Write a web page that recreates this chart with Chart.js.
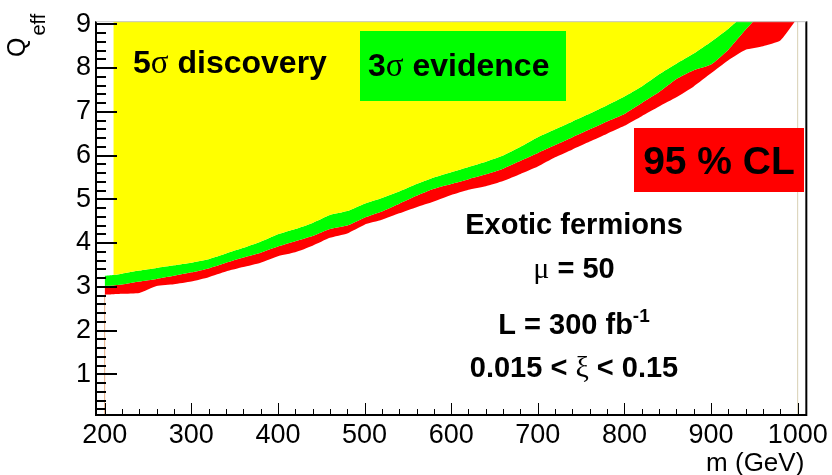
<!DOCTYPE html>
<html>
<head>
<meta charset="utf-8">
<script src="https://cdn.jsdelivr.net/npm/chart.js@4.4.0/dist/chart.umd.min.js"></script>
<style>
  html, body { margin: 0; padding: 0; background: #fff; }
  #wrap { width: 832px; height: 475px; }
</style>
</head>
<body>
<div id="wrap"><canvas id="myChart" width="832" height="475"></canvas></div>
<script>
// mass points (GeV)
const masses = [200, 210, 220, 240, 260, 280, 300, 320, 340, 360, 380, 400, 420, 440, 460, 480,
  500, 520, 540, 560, 580, 600, 620, 640, 660, 680, 700, 720, 740, 760, 780,
  800, 820, 840, 860, 880, 900, 920, 940, 960, 980, 1000];

// Q_eff needed for a 5 sigma discovery
const qDiscovery = [3.25, 3.27, 3.30, 3.37, 3.43, 3.49, 3.55, 3.63, 3.76, 3.89, 4.03, 4.20, 4.32, 4.46, 4.64, 4.73,
  4.90, 5.03, 5.18, 5.35, 5.50, 5.62, 5.74, 5.86, 6.00, 6.20, 6.42, 6.60, 6.78, 6.96, 7.15,
  7.35, 7.58, 7.86, 8.10, 8.33, 8.60, 8.90, 9.25, 9.60, null, null];

// Q_eff needed for 3 sigma evidence
const qEvidence = [3.02, 3.03, 3.05, 3.12, 3.18, 3.25, 3.33, 3.42, 3.55, 3.67, 3.78, 3.92, 4.04, 4.16, 4.32, 4.40,
  4.58, 4.72, 4.90, 5.08, 5.24, 5.35, 5.46, 5.57, 5.70, 5.88, 6.06, 6.24, 6.42, 6.60, 6.78,
  6.95, 7.20, 7.45, 7.75, 7.95, 8.08, 8.42, 8.88, 9.30, 9.70, 10.1];

// 95 % CL exclusion
const qExclusion = [2.82, 2.83, 2.84, 2.86, 3.02, 3.06, 3.12, 3.22, 3.35, 3.45, 3.55, 3.70, 3.79, 3.94, 4.12, 4.22,
  4.42, 4.53, 4.68, 4.82, 4.95, 5.10, 5.22, 5.30, 5.42, 5.58, 5.75, 5.96, 6.14, 6.32, 6.50,
  6.68, 6.90, 7.12, 7.33, 7.58, 7.88, 8.18, 8.42, 8.50, 8.63, 9.15];

const xTicks = [200, 300, 400, 500, 600, 700, 800, 900, 1000];
const yTicks = [1, 2, 3, 4, 5, 6, 7, 8, 9];

const SANS = '"Liberation Sans", Arial, Helvetica, sans-serif';
const GREEK = '"Liberation Serif", "DejaVu Serif", serif';

const toPoints = (vals, fromMass) => masses
  .map((m, i) => ({ x: m, y: vals[i] }))
  .filter(p => p.y !== null && (fromMass === undefined || p.x >= fromMass));

const noLine = {
  borderColor: "rgba(0,0,0,0)",
  borderWidth: 0,
  pointRadius: 0,
  tension: 0.15,
};

// draws a row of text pieces (different fonts) centred on cx
function drawRuns(ctx, runs, cx, baseline, align) {
  let total = 0;
  runs.forEach(r => { ctx.font = r.font; r.w = ctx.measureText(r.t).width; total += r.w; });
  let x = align === "left" ? cx : cx - total / 2;
  ctx.textAlign = "left";
  ctx.textBaseline = "alphabetic";
  runs.forEach(r => {
    ctx.font = r.font;
    ctx.fillText(r.t, x, baseline + (r.dy || 0));
    x += r.w;
  });
}

const bold = (s) => "bold " + s + "px " + SANS;
const greek = (s) => s + "px " + GREEK;

const frameAndText = {
  id: "frameAndText",
  afterDatasetsDraw(chart) {
    const { ctx, chartArea: a, scales } = chart;
    const xs = scales.x, ys = scales.y;
    ctx.save();

    // frame
    ctx.strokeStyle = "#000";
    ctx.lineWidth = 2;
    ctx.beginPath();
    ctx.moveTo(a.left, a.top);
    ctx.lineTo(a.left, a.bottom);
    ctx.lineTo(a.right, a.bottom);
    ctx.lineTo(a.right, a.top);
    ctx.stroke();
    ctx.strokeStyle = "#c4c4c4";
    ctx.lineWidth = 1;
    ctx.beginPath();
    ctx.moveTo(a.left, a.top + 0.5);
    ctx.lineTo(a.right, a.top + 0.5);
    ctx.stroke();

    // y ticks, inside the frame
    ctx.strokeStyle = "#000";
    ctx.lineWidth = 2;
    ctx.beginPath();
    for (let k = 1; k <= 45; k++) {
      const v = k * 0.2;
      const y = Math.round(ys.getPixelForValue(v));
      const len = k % 5 === 0 ? 21 : 10;
      ctx.moveTo(a.left, y);
      ctx.lineTo(a.left + len, y);
    }
    ctx.stroke();

    // x ticks
    ctx.lineWidth = 1;
    ctx.beginPath();
    for (let m = 200; m <= 1000; m += 20) {
      const x = Math.round(xs.getPixelForValue(m)) + 0.5;
      const len = m % 100 === 0 ? 12 : 6;
      ctx.moveTo(x, a.bottom);
      ctx.lineTo(x, a.bottom - len);
    }
    ctx.stroke();

    ctx.fillStyle = "#000";

    // axis titles
    ctx.save();
    ctx.translate(25, 57);
    ctx.rotate(-Math.PI / 2);
    ctx.textAlign = "left";
    ctx.textBaseline = "alphabetic";
    ctx.font = "25px " + SANS;
    ctx.fillText("Q", 0, 0);
    const qw = ctx.measureText("Q").width;
    ctx.font = "20px " + SANS;
    ctx.fillText("eff", qw + 2, 20);
    ctx.restore();

    ctx.font = "26px " + SANS;
    ctx.textAlign = "right";
    ctx.textBaseline = "alphabetic";
    ctx.fillText("m (GeV)", a.right - 2, 471);

    // region labels
    drawRuns(ctx, [
      { t: "5", font: bold(32) },
      { t: "\u03c3", font: greek(33) },
      { t: " discovery", font: bold(32) },
    ], 133, 73, "left");

    ctx.fillStyle = "#00ff00";
    ctx.fillRect(360, 31, 206, 70);
    ctx.fillStyle = "#000";
    drawRuns(ctx, [
      { t: "3", font: bold(32) },
      { t: "\u03c3", font: greek(33) },
      { t: " evidence", font: bold(32) },
    ], 368, 76, "left");

    ctx.fillStyle = "#ff0000";
    ctx.fillRect(634, 128, 170, 64);
    ctx.fillStyle = "#000";
    drawRuns(ctx, [{ t: "95 % CL", font: bold(39) }], 719, 174);

    // scenario description
    const cx = 574;
    drawRuns(ctx, [{ t: "Exotic fermions", font: bold(29) }], cx, 234);
    drawRuns(ctx, [
      { t: "\u03bc", font: greek(30) },
      { t: " = 50", font: bold(29) },
    ], cx, 278);
    drawRuns(ctx, [
      { t: "L = 300 fb", font: bold(29) },
      { t: "-1", font: bold(19), dy: -12 },
    ], cx, 334);
    drawRuns(ctx, [
      { t: "0.015 < ", font: bold(29) },
      { t: "\u03be", font: greek(30) },
      { t: " < 0.15", font: bold(29) },
    ], cx, 377);

    ctx.restore();
  },
};

const ctx = document.getElementById("myChart").getContext("2d");

const myChart = new Chart(ctx, {
  type: "line",
  data: {
    datasets: [
      {
        // 5 sigma region, above the discovery curve
        label: "5 sigma discovery",
        data: toPoints(qDiscovery, 210),
        backgroundColor: "#ffff00",
        fill: "end",
        ...noLine,
      },
      {
        label: "3 sigma evidence",
        data: toPoints(qDiscovery),
        backgroundColor: "#00ff00",
        fill: 2,
        ...noLine,
      },
      {
        label: "95 % CL",
        data: toPoints(qEvidence),
        backgroundColor: "#ff0000",
        fill: 3,
        ...noLine,
      },
      {
        label: "limit",
        data: toPoints(qExclusion),
        fill: false,
        ...noLine,
      },
      {
        label: "edge 200",
        data: [{ x: 200, y: 0 }, { x: 200, y: qExclusion[0] }],
        borderColor: "#e6ad80",
        borderWidth: 1,
        pointRadius: 0,
        fill: false,
      },
      {
        label: "edge 1000",
        data: [{ x: 1000, y: 0 }, { x: 1000, y: 9.5 }],
        borderColor: "#d8d0b4",
        borderWidth: 1,
        pointRadius: 0,
        fill: false,
      },
    ],
  },
  options: {
    responsive: false,
    animation: false,
    layout: {
      padding: { left: 0, right: 25, top: 16, bottom: 0 },
    },
    scales: {
      x: {
        type: "linear",
        min: 190,
        max: 1010,
        grid: { display: false, drawTicks: false },
        border: { display: false },
        ticks: {
          color: "#000",
          font: { family: SANS, size: 27 },
          padding: 4,
          maxRotation: 0,
          autoSkip: false,
          callback: (v) => String(v),
        },
        afterBuildTicks: (s) => { s.ticks = xTicks.map(v => ({ value: v })); },
        afterFit: (s) => { s.height = 60; },
      },
      y: {
        type: "linear",
        min: 0.07,
        max: 9.07,
        grid: { display: false, drawTicks: false },
        border: { display: false },
        ticks: {
          color: "#000",
          font: { family: SANS, size: 27 },
          padding: 5,
          autoSkip: false,
          callback: (v) => String(v),
        },
        afterBuildTicks: (s) => { s.ticks = yTicks.map(v => ({ value: v })); },
        afterFit: (s) => { s.width = 96; },
      },
    },
    plugins: {
      legend: { display: false },
      tooltip: { enabled: false },
    },
  },
  plugins: [frameAndText],
});
</script>
</body>
</html>
